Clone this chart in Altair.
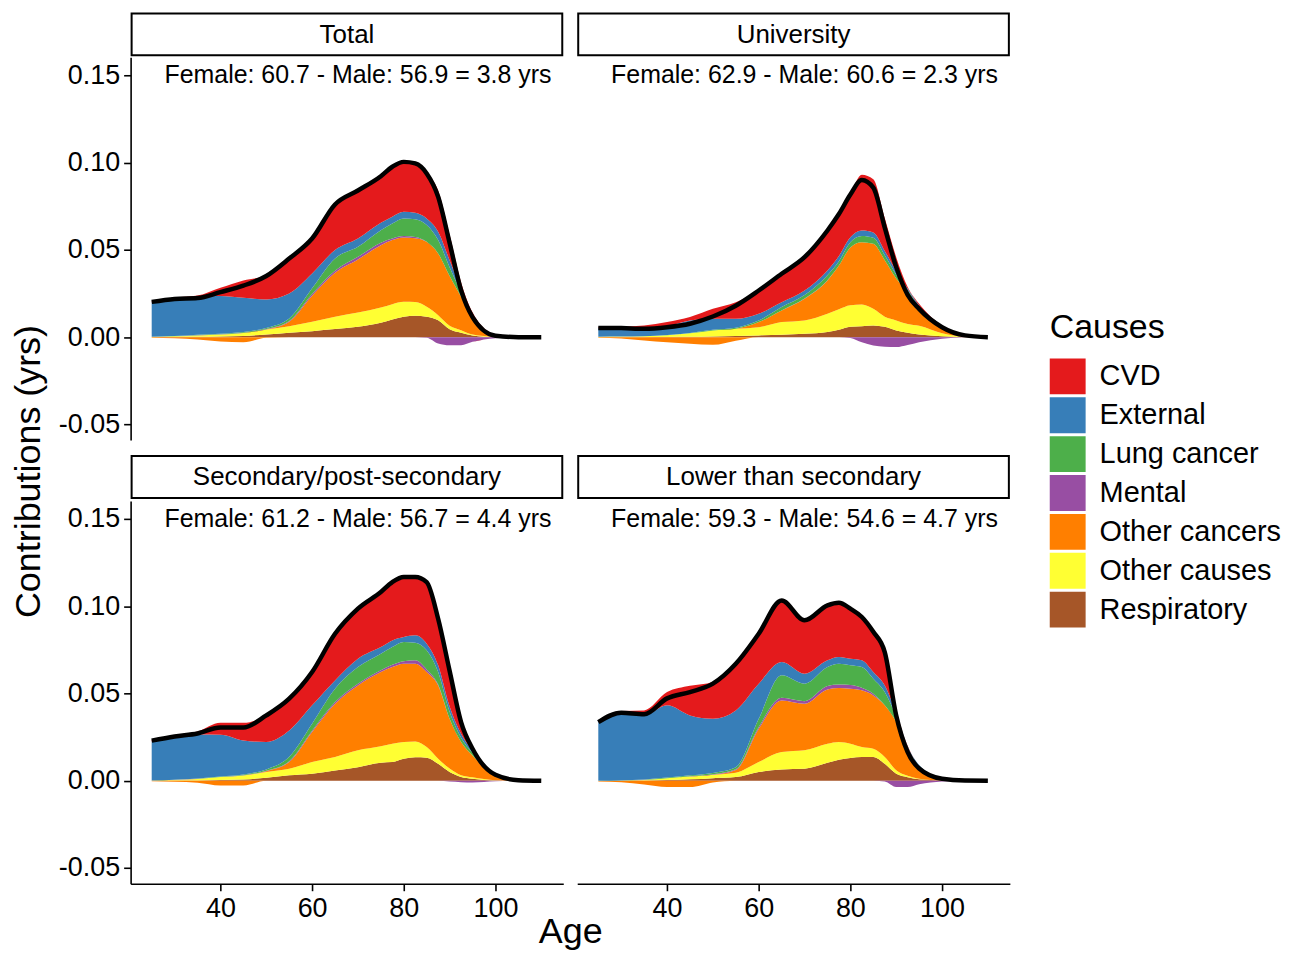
import altair as alt
import pandas as pd

FONT = "Liberation Sans"

AGES = [25, 30, 35, 40, 45, 50, 55, 60, 65, 70, 75, 77.5, 80, 82.5, 85, 87.5, 90, 92.5, 95, 100, 105, 110]
CAUSES = ["CVD", "External", "Lung cancer", "Mental", "Other cancers", "Other causes", "Respiratory"]
COLORS = ["#E41A1C", "#377EB8", "#4DAF4A", "#984EA3", "#FF7F00", "#FFFF33", "#A65628"]
STACK_ORDER = ["Respiratory", "Other causes", "Other cancers", "Mental", "Lung cancer", "External", "CVD"]
PANELS = ["Total", "University", "Secondary/post-secondary", "Lower than secondary"]
NOTES = [
    "Female: 60.7 - Male: 56.9 = 3.8 yrs",
    "Female: 62.9 - Male: 60.6 = 2.3 yrs",
    "Female: 61.2 - Male: 56.7 = 4.4 yrs",
    "Female: 59.3 - Male: 54.6 = 4.7 yrs",
]
X_TICKS = [40, 60, 80, 100]
Y_TICKS = [-0.05, 0.0, 0.05, 0.10, 0.15]

# ---- Total
total_cvd = [0.0005, 0.0008, 0.0010, 0.0048, 0.0100, 0.0137, 0.0200, 0.0200, 0.0261, 0.0275, 0.0267, 0.0286, 0.0286, 0.0283, 0.0261, 0.0236, 0.0146, 0.0039, 0.0017, -0.0001, 0.0, 0.0]
total_ext = [0.0198, 0.0212, 0.0215, 0.0216, 0.0196, 0.0163, 0.0143, 0.0085, 0.0048, 0.0047, 0.0042, 0.0039, 0.0038, 0.0036, 0.0038, 0.0048, 0.0040, 0.0020, 0.0010, 0.0002, 0.0, 0.0]
total_lung = [0.0, 0.0001, 0.0002, 0.0003, 0.0004, 0.0007, 0.0015, 0.0033, 0.0070, 0.0058, 0.0072, 0.0086, 0.0101, 0.0102, 0.0096, 0.0077, 0.0050, 0.0025, 0.0010, 0.0001, 0.0, 0.0]
total_mental = [0.0, 0.0, 0.0001, 0.0001, 0.0001, 0.0002, 0.0004, 0.0010, 0.0012, 0.0015, 0.0014, 0.0009, 0.0008, 0.0007, -0.0003, -0.0036, -0.0046, -0.0046, -0.0027, -0.0006, -0.0001, 0.0]
total_othcan = [-0.0003, -0.0007, -0.0014, -0.0025, -0.0030, -0.0003, 0.0025, 0.0149, 0.0252, 0.0304, 0.0357, 0.0367, 0.0369, 0.0366, 0.0372, 0.0353, 0.0285, 0.0191, 0.0090, 0.0010, 0.0001, 0.0]
total_othcau = [0.0002, 0.0004, 0.0008, 0.0011, 0.0017, 0.0029, 0.0038, 0.0054, 0.0071, 0.0082, 0.0088, 0.0088, 0.0085, 0.0079, 0.0057, 0.0029, 0.0020, 0.0015, 0.0005, 0.0001, 0.0, 0.0]
total_resp = [0.0, 0.0001, 0.0002, 0.0004, 0.0007, 0.0015, 0.0025, 0.0034, 0.0046, 0.0059, 0.0082, 0.0101, 0.0117, 0.0122, 0.0117, 0.0097, 0.0045, 0.0025, 0.0010, 0.0001, 0.0, 0.0]

# ---- University
univ_cvd = [0.0004, 0.0009, 0.0017, 0.0024, 0.0020, 0.0057, 0.0095, 0.0133, 0.0163, 0.0191, 0.0229, 0.0240, 0.0250, 0.0319, 0.0304, 0.0189, 0.0080, 0.0009, 0.0010, 0.0, 0.0001, 0.0]
univ_ext = [0.0050, 0.0048, 0.0045, 0.0050, 0.0071, 0.0063, 0.0051, 0.0039, 0.0028, 0.0026, 0.0027, 0.0030, 0.0029, 0.0032, 0.0031, 0.0025, 0.0020, 0.0008, 0.0008, 0.0002, 0.0, 0.0]
univ_lung = [0.0, 0.0, 0.0, 0.0001, 0.0002, 0.0004, 0.0006, 0.0009, 0.0019, 0.0020, 0.0029, 0.0025, 0.0029, 0.0035, 0.0034, 0.0028, 0.0022, 0.0010, 0.0008, 0.0002, 0.0, 0.0]
univ_mental = [0.0, 0.0, 0.0, 0.0, 0.0, 0.0, 0.0, 0.0, 0.0, 0.0001, 0.0001, 0.0, -0.0005, -0.0030, -0.0048, -0.0055, -0.0057, -0.0045, -0.0029, -0.0009, -0.0001, 0.0]
univ_othcan = [-0.0003, -0.0008, -0.0019, -0.0029, -0.0038, -0.0044, -0.0020, 0.0029, 0.0067, 0.0124, 0.0191, 0.0250, 0.0331, 0.0357, 0.0373, 0.0324, 0.0240, 0.0185, 0.0100, 0.0040, 0.0007, 0.0]
univ_othcau = [0.0002, 0.0003, 0.0005, 0.0010, 0.0020, 0.0034, 0.0042, 0.0047, 0.0073, 0.0077, 0.0105, 0.0118, 0.0123, 0.0124, 0.0095, 0.0058, 0.0058, 0.0050, 0.0050, 0.0017, 0.0002, 0.0]
univ_resp = [0.0, 0.0, 0.0, 0.0001, 0.0002, 0.0004, 0.0006, 0.0010, 0.0013, 0.0019, 0.0029, 0.0042, 0.0060, 0.0063, 0.0067, 0.0059, 0.0038, 0.0025, 0.0015, 0.0005, 0.0001, 0.0]

# ---- Secondary/post-secondary
sec_cvd = [0.0008, 0.0010, 0.0017, 0.0068, 0.0101, 0.0152, 0.0182, 0.0191, 0.0267, 0.0287, 0.0315, 0.0334, 0.0344, 0.0334, 0.0353, 0.0267, 0.0210, 0.0075, 0.0020, 0.0003, 0.0, 0.0]
sec_ext = [0.0223, 0.0244, 0.0252, 0.0239, 0.0195, 0.0157, 0.0151, 0.0105, 0.0048, 0.0048, 0.0038, 0.0038, 0.0028, 0.0042, 0.0038, 0.0038, 0.0030, 0.0022, 0.0013, 0.0003, 0.0, 0.0]
sec_lung = [0.0, 0.0001, 0.0002, 0.0003, 0.0005, 0.0008, 0.0025, 0.0040, 0.0076, 0.0095, 0.0095, 0.0102, 0.0110, 0.0101, 0.0109, 0.0072, 0.0040, 0.0025, 0.0015, 0.0003, 0.0, 0.0]
sec_mental = [0.0, 0.0, 0.0001, 0.0001, 0.0001, 0.0002, 0.0005, 0.0008, 0.0010, 0.0010, 0.0010, 0.0013, 0.0015, 0.0020, 0.0015, 0.0005, -0.0005, -0.0008, -0.0010, -0.0003, 0.0, 0.0]
sec_othcan = [-0.0003, -0.0006, -0.0011, -0.0027, -0.0027, 0.0005, 0.0038, 0.0172, 0.0305, 0.0372, 0.0426, 0.0439, 0.0448, 0.0445, 0.0430, 0.0420, 0.0285, 0.0190, 0.0125, 0.0025, 0.0003, 0.0]
sec_othcau = [0.0002, 0.0004, 0.0008, 0.0017, 0.0023, 0.0033, 0.0038, 0.0067, 0.0077, 0.0096, 0.0094, 0.0105, 0.0096, 0.0091, 0.0061, 0.0029, 0.0020, 0.0010, 0.0008, 0.0001, 0.0, 0.0]
sec_resp = [0.0, 0.0001, 0.0002, 0.0004, 0.0007, 0.0017, 0.0031, 0.0040, 0.0059, 0.0078, 0.0103, 0.0107, 0.0126, 0.0134, 0.0132, 0.0097, 0.0050, 0.0022, 0.0012, 0.0002, 0.0, 0.0]

# ---- Lower than secondary
low_cvd = [0.0006, 0.0014, 0.0029, 0.0076, 0.0170, 0.0211, 0.0267, 0.0286, 0.0353, 0.0306, 0.0315, 0.0311, 0.0287, 0.0248, 0.0230, 0.0196, 0.0024, 0.0004, 0.0, -0.0001, 0.0, 0.0]
low_ext = [0.0335, 0.0383, 0.0367, 0.0414, 0.0343, 0.0310, 0.0325, 0.0201, 0.0076, 0.0057, 0.0039, 0.0039, 0.0038, 0.0039, 0.0039, 0.0038, 0.0020, 0.0008, 0.0004, 0.0001, 0.0, 0.0]
low_lung = [0.0, 0.0001, 0.0002, 0.0003, 0.0005, 0.0008, 0.0012, 0.0047, 0.0129, 0.0100, 0.0108, 0.0119, 0.0112, 0.0118, 0.0085, 0.0076, 0.0030, 0.0010, 0.0004, 0.0001, 0.0, 0.0]
low_mental = [0.0, 0.0, 0.0001, 0.0001, 0.0002, 0.0003, 0.0005, 0.0010, 0.0015, 0.0015, 0.0020, 0.0020, 0.0022, 0.0015, 0.0010, -0.0005, -0.0036, -0.0036, -0.0020, -0.0004, 0.0, 0.0]
low_othcan = [-0.0003, -0.0008, -0.0022, -0.0036, -0.0036, -0.0010, 0.0015, 0.0191, 0.0296, 0.0267, 0.0311, 0.0309, 0.0315, 0.0325, 0.0306, 0.0296, 0.0276, 0.0150, 0.0070, 0.0012, 0.0001, 0.0]
low_othcau = [-0.0002, -0.0001, 0.0002, 0.0010, 0.0016, 0.0019, 0.0025, 0.0057, 0.0099, 0.0105, 0.0109, 0.0102, 0.0082, 0.0057, 0.0047, 0.0039, 0.0020, 0.0008, 0.0004, 0.0001, 0.0, 0.0]
low_resp = [0.0, 0.0001, 0.0002, 0.0004, 0.0008, 0.0015, 0.0021, 0.0050, 0.0065, 0.0069, 0.0103, 0.0120, 0.0130, 0.0136, 0.0136, 0.0097, 0.0040, 0.0020, 0.0008, 0.0001, 0.0, 0.0]

PANEL_SERIES = [
    {"CVD": total_cvd, "External": total_ext, "Lung cancer": total_lung, "Mental": total_mental,
     "Other cancers": total_othcan, "Other causes": total_othcau, "Respiratory": total_resp},
    {"CVD": univ_cvd, "External": univ_ext, "Lung cancer": univ_lung, "Mental": univ_mental,
     "Other cancers": univ_othcan, "Other causes": univ_othcau, "Respiratory": univ_resp},
    {"CVD": sec_cvd, "External": sec_ext, "Lung cancer": sec_lung, "Mental": sec_mental,
     "Other cancers": sec_othcan, "Other causes": sec_othcau, "Respiratory": sec_resp},
    {"CVD": low_cvd, "External": low_ext, "Lung cancer": low_lung, "Mental": low_mental,
     "Other cancers": low_othcan, "Other causes": low_othcau, "Respiratory": low_resp},
]

W = 434
PH = 384
SH = 43
X_DOMAIN = [20.4, 114.8]
Y_DOMAIN = [-0.059, 0.1603]

xscale = alt.Scale(domain=X_DOMAIN, nice=False, zero=False)
yscale = alt.Scale(domain=Y_DOMAIN, nice=False, zero=False)
cscale = alt.Scale(domain=CAUSES, range=COLORS)

LEGEND = alt.Legend(
    title="Causes", orient="none", legendX=922, legendY=300,
    titleFontSize=34, titleFontWeight="normal", titleColor="black", titlePadding=13,
    labelFontSize=29, labelColor="black", labelOffset=14, labelLimit=400,
    symbolType="square", symbolSize=1296, symbolStrokeWidth=0, symbolOpacity=1,
    rowPadding=3,
)

Y_LABEL_EXPR = "datum.value < 0 ? '-' + format(-datum.value, '.2f') : format(datum.value, '.2f')"


def stack_frame(series):
    rows = []
    for i, age in enumerate(AGES):
        pos = 0.0
        neg = 0.0
        for c in STACK_ORDER:
            v = series[c][i]
            p = max(v, 0.0)
            n = min(v, 0.0)
            rows.append({"age": age, "cause": c, "part": "pos", "y0": pos, "y1": pos + p})
            rows.append({"age": age, "cause": c, "part": "neg", "y0": neg, "y1": neg + n})
            pos += p
            neg += n
    return pd.DataFrame(rows)


def value_frame(series):
    rows = []
    for c in CAUSES:
        for age, v in zip(AGES, series[c]):
            rows.append({"age": age, "cause": c, "value": v})
    return pd.DataFrame(rows)


def axis_common():
    return dict(
        labelFont=FONT, labelFontSize=27, labelColor="black",
        tickSize=7, tickWidth=1.6, tickColor="black",
        domainColor="black", domainWidth=1.6, grid=False,
        titleFont=FONT, titleFontSize=36, titleFontWeight="normal", titleColor="black",
    )


def make_panel(i, show_y, show_x, y_title, x_title):
    series = PANEL_SERIES[i]
    if show_x:
        if x_title:
            xaxis = alt.Axis(values=X_TICKS, title=x_title, titleX=441, titleY=31,
                             titleBaseline="top", labelPadding=5, **axis_common())
        else:
            xaxis = alt.Axis(values=X_TICKS, title=None, labelPadding=5, **axis_common())
    else:
        xaxis = None
    if show_y:
        if y_title:
            yaxis = alt.Axis(values=Y_TICKS, labelExpr=Y_LABEL_EXPR, title=y_title,
                             titleX=-83, titleY=415, labelPadding=4, **axis_common())
        else:
            yaxis = alt.Axis(values=Y_TICKS, labelExpr=Y_LABEL_EXPR, title=None,
                             labelPadding=4, **axis_common())
    else:
        yaxis = None

    area = alt.Chart(stack_frame(series)).mark_area(interpolate="monotone").encode(
        x=alt.X("age:Q", scale=xscale, axis=xaxis),
        y=alt.Y("y1:Q", scale=yscale, axis=yaxis),
        y2="y0:Q",
        color=alt.Color("cause:N", scale=cscale, legend=LEGEND),
        detail="part:N",
    )
    line = alt.Chart(value_frame(series)).transform_aggregate(
        total="sum(value)", groupby=["age"]
    ).mark_line(color="black", strokeWidth=4.5, interpolate="monotone").encode(
        x=alt.X("age:Q", scale=xscale, axis=xaxis),
        y=alt.Y("total:Q", scale=yscale, axis=yaxis),
    )
    note = alt.Chart(pd.DataFrame({"age": [70], "val": [0.15], "label": [NOTES[i]]})).mark_text(
        font=FONT, fontSize=25, color="black", baseline="middle", align="center"
    ).encode(
        x=alt.X("age:Q", scale=xscale, axis=xaxis),
        y=alt.Y("val:Q", scale=yscale, axis=yaxis),
        text="label:N",
    )
    return alt.layer(area, line, note).properties(width=W, height=PH)


def make_strip(i, top_gap, box_h, total_h):
    sdf = pd.DataFrame({"label": [PANELS[i]]})
    box = alt.Chart(sdf).mark_rect(fill="white", stroke="black", strokeWidth=2).encode(
        x=alt.value(1), x2=alt.value(W - 1), y=alt.value(top_gap + 1), y2=alt.value(top_gap + box_h)
    )
    txt = alt.Chart(sdf).mark_text(font=FONT, fontSize=26, color="black", baseline="middle").encode(
        x=alt.value(W / 2), y=alt.value(top_gap + box_h / 2 + 1), text="label:N"
    )
    return alt.layer(box, txt).properties(width=W, height=total_h)


cells = [
    make_strip(0, 0, SH, SH), make_strip(1, 0, SH, SH),
    make_panel(0, True, False, "Contributions (yrs)", None), make_panel(1, False, False, None, None),
    make_strip(2, 13, SH, SH + 14), make_strip(3, 13, SH, SH + 14),
    make_panel(2, True, True, None, "Age"), make_panel(3, False, True, None, None),
]

chart = alt.concat(*cells, columns=2, spacing={"row": 2, "column": 14}, bounds="flush").properties(
    padding={"left": 3, "top": 3, "right": 5, "bottom": 0}
).resolve_scale(color="shared").configure(font=FONT).configure_view(strokeWidth=0, stroke="transparent")

chart.save("out.html", embed_options={"renderer": "svg", "actions": False})
